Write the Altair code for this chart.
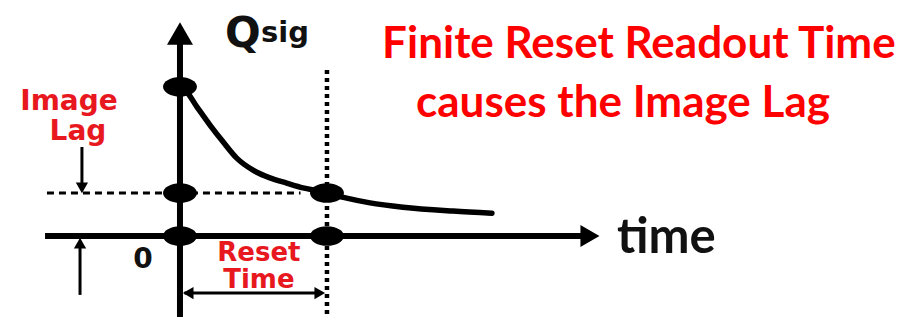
import altair as alt
import pandas as pd

# ---- data (t in units of the reset time, q in units of the image-lag level) ----
curve_t = [0.0, 0.034, 0.114, 0.204, 0.293, 0.386, 0.497, 0.612, 0.726, 0.837, 0.952, 1.0,
           1.134, 1.293, 1.517, 1.857, 2.122]
curve_q = [3.47, 3.40, 3.01, 2.58, 2.19, 1.81, 1.53, 1.35, 1.23, 1.12, 1.04, 1.0,
           0.88, 0.77, 0.67, 0.58, 0.53]

dot_t = [0.0, 0.0, 0.0, 1.0, 1.0]
dot_q = [3.47, 1.0, 0.0, 1.0, 0.0]

# axis and helper lines: (t1, q1, t2, q2)
axis_lines = [(0.0, -1.9, 0.0, 4.50), (-0.918, 0.0, 2.73, 0.0)]
thin_arrows = [(-0.667, 2.07, -0.667, 1.15), (-0.68, -1.37, -0.68, -0.14), (0.03, -1.326, 0.95, -1.326)]
dotted_line = [(1.0, 3.86, 1.0, -1.95)]
dashed_line = [(-0.905, 1.0, 0.82, 1.0)]

# arrow heads: (t, q, shape, size)
heads = [(0.0, 4.709, "triangle-up", 676), (2.789, 0.0, "triangle-right", 484),
         (-0.667, 1.12, "triangle-down", 150), (-0.68, -0.167, "triangle-up", 150),
         (0.951, -1.326, "triangle-right", 150), (0.056, -1.326, "triangle-left", 150)]

title_lines = ["Finite Reset Readout Time", "causes the Image Lag"]
title_t = [3.122, 3.014]
title_q = [4.14, 2.767]

red_labels = ["Image", "Lag", "Reset", "Time"]
red_t = [-0.755, -0.694, 0.537, 0.537]
red_q = [2.93, 2.233, -0.58, -1.21]

X_DOMAIN = [-1.170, 4.878]
Y_DOMAIN = [-1.884, 5.302]

xs = alt.Scale(domain=X_DOMAIN, nice=False, zero=False)
ys = alt.Scale(domain=Y_DOMAIN, nice=False, zero=False)


def seg_df(segs):
    return pd.DataFrame(segs, columns=["t1", "q1", "t2", "q2"])


def rules(segs, **kw):
    return alt.Chart(seg_df(segs)).mark_rule(color="black", **kw).encode(
        x=alt.X("t1:Q", scale=xs, axis=None), x2="t2:Q",
        y=alt.Y("q1:Q", scale=ys, axis=None), y2="q2:Q")


def texts(labels, ts, qs, **kw):
    df = pd.DataFrame({"label": labels, "t": ts, "q": qs})
    return alt.Chart(df).mark_text(**kw).encode(
        x=alt.X("t:Q", scale=xs, axis=None), y=alt.Y("q:Q", scale=ys, axis=None),
        text="label:N")


curve = alt.Chart(pd.DataFrame({"t": curve_t, "q": curve_q})).mark_line(
    color="black", strokeWidth=5.5, interpolate="monotone", strokeCap="round").encode(
    x=alt.X("t:Q", scale=xs, axis=None), y=alt.Y("q:Q", scale=ys, axis=None))

ell = "M-1,0A1,0.58,0,1,0,1,0A1,0.58,0,1,0,-1,0Z"
dots = alt.Chart(pd.DataFrame({"t": dot_t, "q": dot_q})).mark_point(
    filled=True, color="black", opacity=1, shape=ell, size=1150).encode(
    x=alt.X("t:Q", scale=xs, axis=None), y=alt.Y("q:Q", scale=ys, axis=None))

head_df = pd.DataFrame(heads, columns=["t", "q", "shape", "size"])
arrow_heads = alt.Chart(head_df).mark_point(filled=True, color="black", opacity=1).encode(
    x=alt.X("t:Q", scale=xs, axis=None), y=alt.Y("q:Q", scale=ys, axis=None),
    shape=alt.Shape("shape:N", scale=None), size=alt.Size("size:Q", scale=None))

layers = [
    rules(dotted_line, strokeWidth=4.5, strokeDash=[4, 4]),
    rules(dashed_line, strokeWidth=3, strokeDash=[7, 5]),
    rules(axis_lines, strokeWidth=6),
    rules(thin_arrows, strokeWidth=3),
    curve,
    dots,
    arrow_heads,
    texts(title_lines, title_t, title_q, font="Lato", fontWeight="bold", fontSize=44,
          color="#ff0000", align="center", baseline="alphabetic"),
    texts(red_labels[:2], red_t[:2], red_q[:2], font="DejaVu Sans", fontWeight="bold", fontSize=28,
          color="#e8181f", align="center", baseline="alphabetic"),
    texts(red_labels[2:], red_t[2:], red_q[2:], font="DejaVu Sans", fontWeight="bold", fontSize=26,
          color="#e8181f", align="center", baseline="alphabetic"),
    texts(["Q"], [0.306], [4.395], font="DejaVu Sans", fontWeight="bold", fontSize=42,
          color="#111111", align="left", baseline="alphabetic"),
    texts(["sig"], [0.551], [4.51], font="DejaVu Sans", fontWeight="bold", fontSize=29,
          color="#111111", align="left", baseline="alphabetic"),
    texts(["0"], [-0.252], [-0.744], font="DejaVu Sans", fontWeight="bold", fontSize=28,
          color="#111111", align="center", baseline="alphabetic"),
    texts(["time"], [2.973], [-0.395], font="Lato", fontWeight="bold", fontSize=49,
          color="#111111", align="left", baseline="alphabetic"),
]

chart = alt.layer(*layers).properties(
    width=889, height=309, padding=0, autosize=alt.AutoSizeParams(type="none"),
    background="white"
).configure_view(stroke=None)

chart.save("out.html", embed_options={"renderer": "svg", "actions": False})
